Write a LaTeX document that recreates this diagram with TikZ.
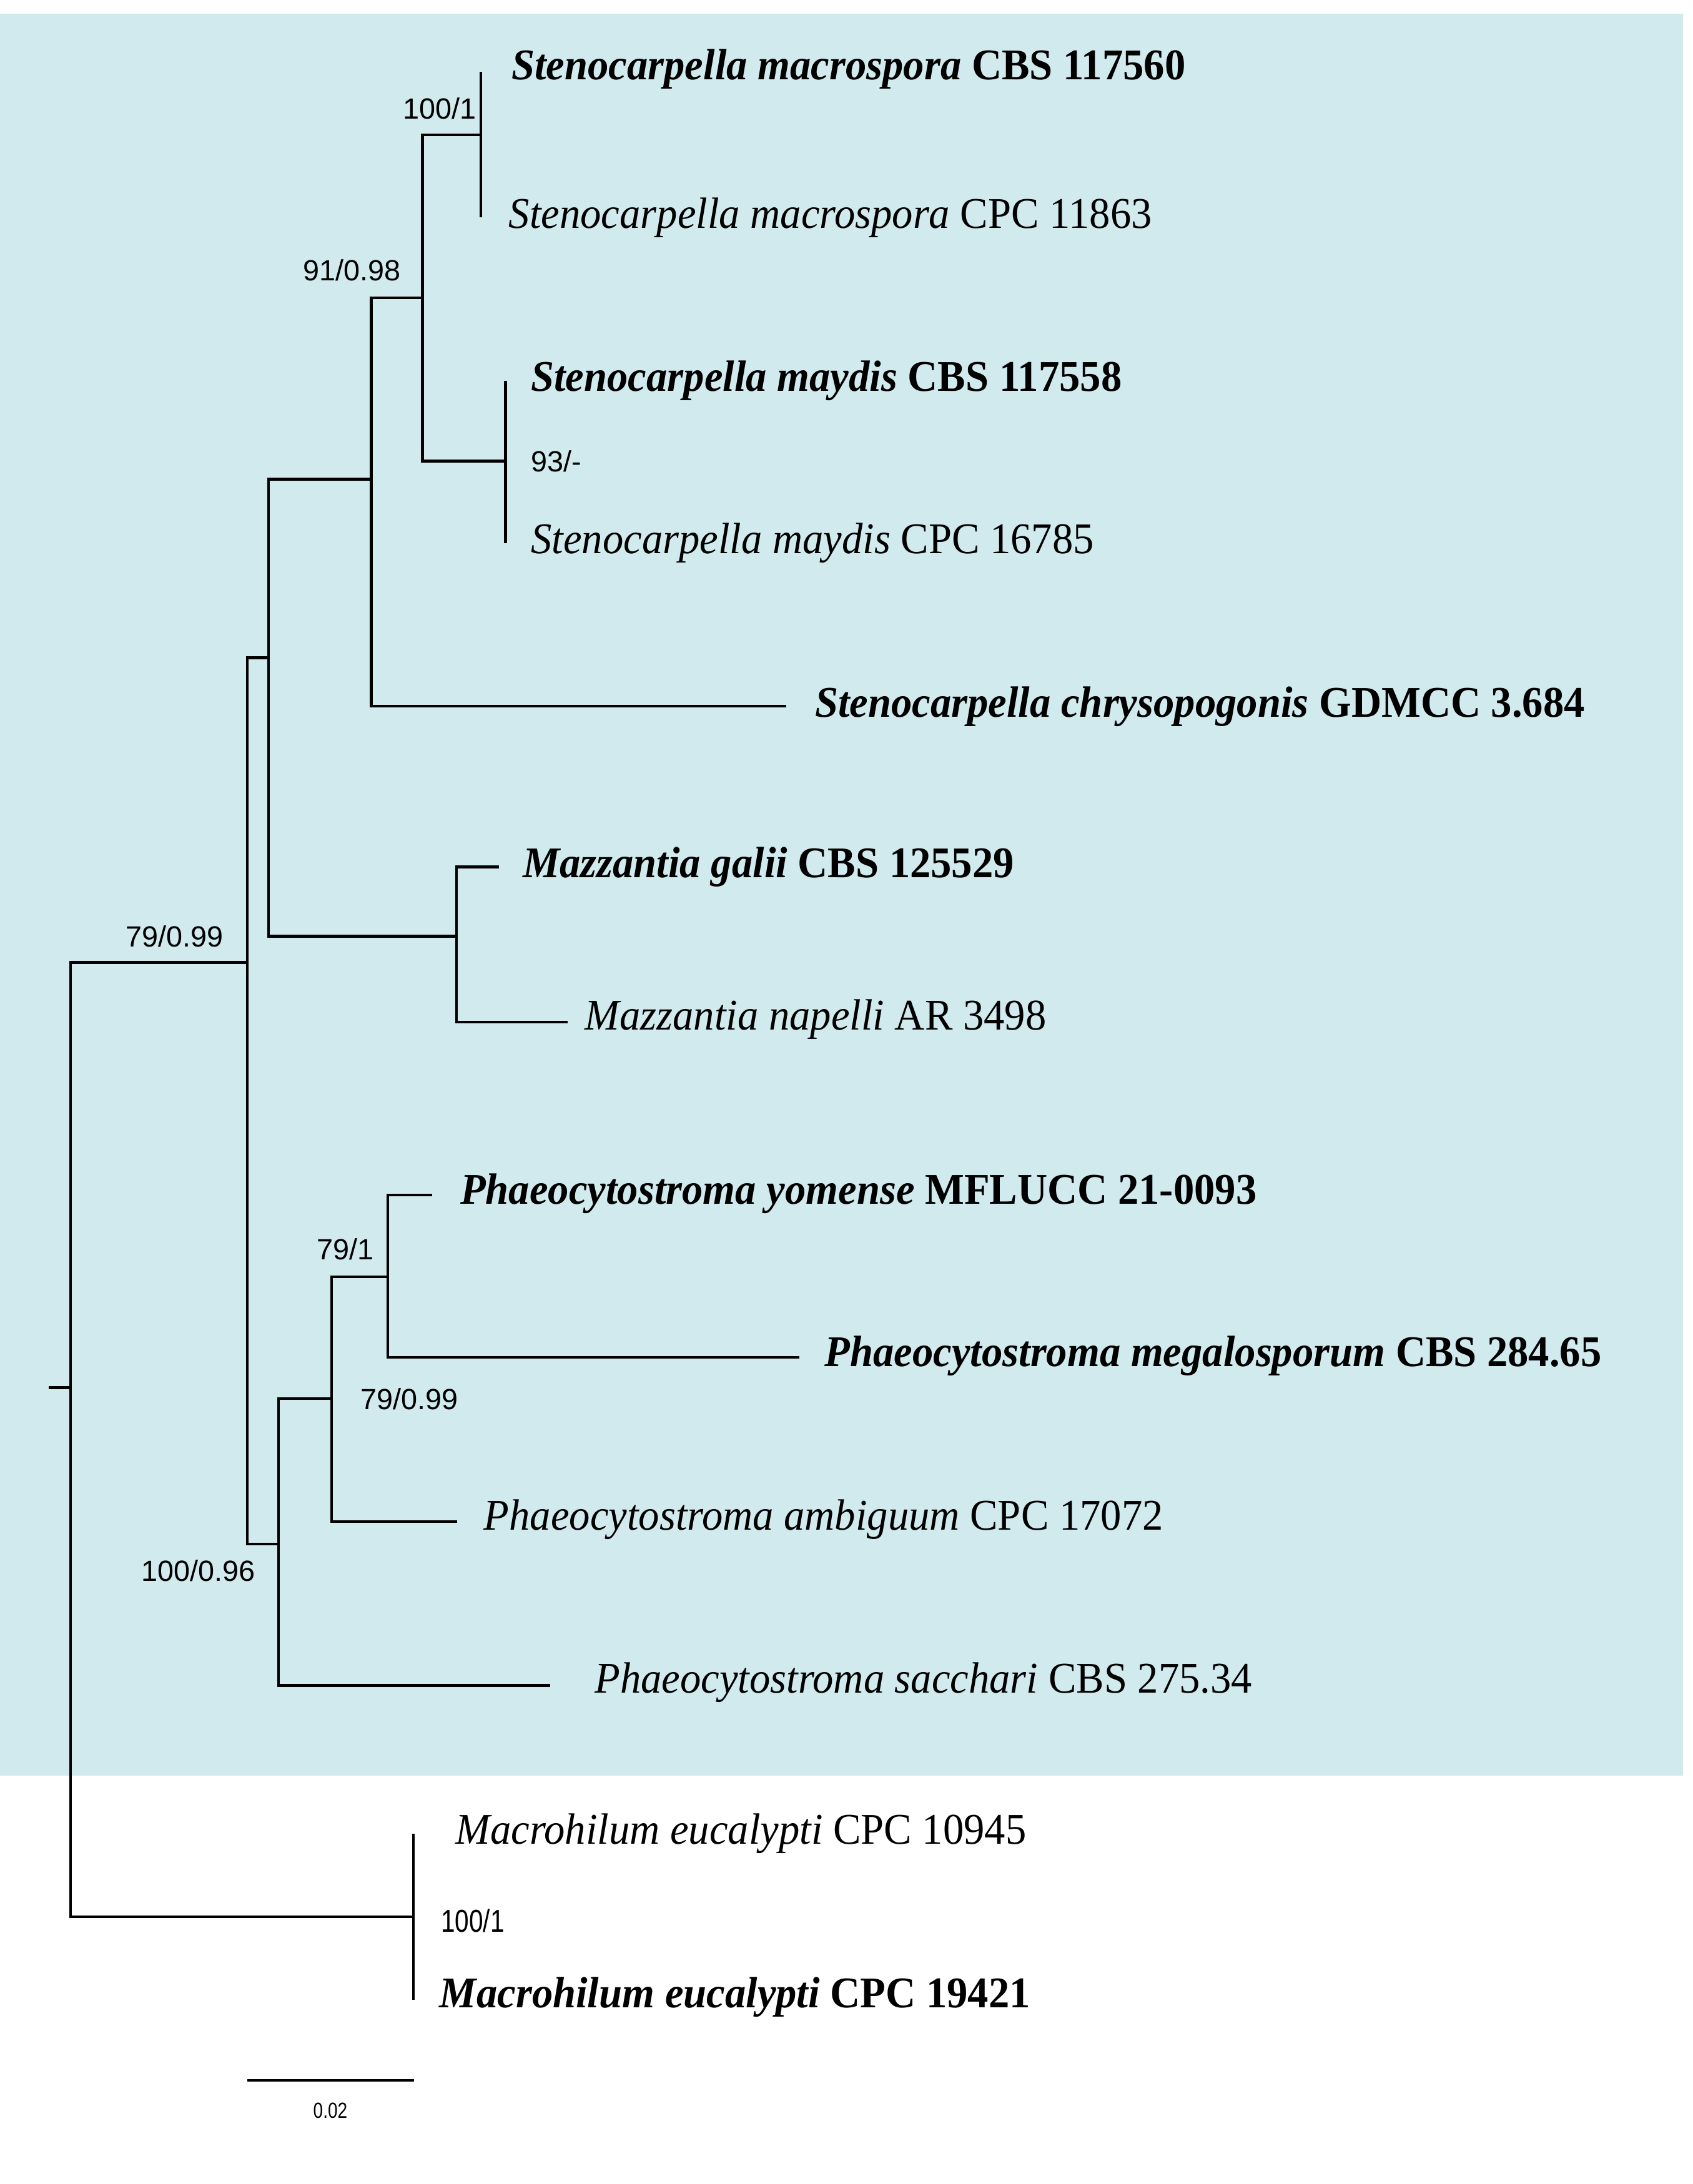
\documentclass[tikz,border=0pt]{standalone}
\usepackage{fontspec}
\setmainfont{Liberation Serif}[FakeStretch=0.95]
\newfontfamily\lab{Liberation Sans}
\newfontfamily\labn{Liberation Sans}[FakeStretch=0.8]
\definecolor{bgc}{HTML}{D1EAEE}
\begin{document}
\begin{tikzpicture}[x=0.02cm,y=-0.02cm,
 br/.style={line width=1.1pt},
 tx/.style={anchor=west,font=\fontsize{18}{20}\selectfont,inner sep=0pt},
 bl/.style={font=\lab\fontsize{12}{14}\selectfont,inner sep=0pt}]
\useasboundingbox (0,0) rectangle (1222,1577);
\fill[white] (0,0) rectangle (1222,1577);
\fill[bgc] (0,10) rectangle (1215,1282);
% internal nodes
\coordinate (r0) at (35,1002);
\coordinate (r) at (51,1002);
\coordinate (a) at (178.5,695);
\coordinate (b) at (194,475);
\coordinate (c) at (268,346);
\coordinate (d) at (305,215);
\coordinate (e) at (347,97.5);
\coordinate (f) at (365,333);
\coordinate (g) at (329.5,676);
\coordinate (h) at (201,1115);
\coordinate (i) at (239.5,1010);
\coordinate (j) at (280,922);
\coordinate (k) at (298.6,1384);
% tips
\coordinate (t1) at (347,52);
\coordinate (t2) at (347,157);
\coordinate (t3) at (365,275);
\coordinate (t4) at (365,392);
\coordinate (t5) at (567.5,510);
\coordinate (t6) at (360,626);
\coordinate (t7) at (410,738);
\coordinate (t8) at (312,863);
\coordinate (t9) at (577,980);
\coordinate (t10) at (330,1098.6);
\coordinate (t11) at (397,1217);
\coordinate (t12) at (298.6,1324);
\coordinate (t13) at (298.6,1444);
% labels
\node[tx] (n1) at (369,50) {\textbf{\textit{Stenocarpella macrospora} CBS 117560}};
\node[tx] (n2) at (367,157) {\textit{Stenocarpella macrospora} CPC 11863};
\node[tx] (n3) at (383,275) {\textbf{\textit{Stenocarpella maydis} CBS 117558}};
\node[tx] (n4) at (383,392) {\textit{Stenocarpella maydis} CPC 16785};
\node[tx] (n5) at (588,510) {\textbf{\textit{Stenocarpella chrysopogonis} GDMCC 3.684}};
\node[tx] (n6) at (377,626) {\textbf{\textit{Mazzantia galii} CBS 125529}};
\node[tx] (n7) at (422,736) {\textit{Mazzantia napelli} AR 3498};
\node[tx] (n8) at (332,862) {\textbf{\textit{Phaeocytostroma  yomense}  MFLUCC 21-0093}};
\node[tx] (n9) at (595,979) {\textbf{\textit{Phaeocytostroma  megalosporum} CBS 284.65}};
\node[tx] (n10) at (349,1097) {\textit{Phaeocytostroma  ambiguum} CPC 17072};
\node[tx] (n11) at (429,1215) {\textit{Phaeocytostroma  sacchari} CBS 275.34};
\node[tx] (n12) at (328.6,1324) {\textit{Macrohilum eucalypti} CPC 10945};
\node[tx] (n13) at (317,1442) {\textbf{\textit{Macrohilum eucalypti} CPC 19421}};
% branches
\draw[br] (r0) -- (r);
\draw[br] (r) |- (a); \draw[br] (r) |- (k);
\draw[br] (a) |- (b); \draw[br] (a) |- (h);
\draw[br] (b) |- (c); \draw[br] (b) |- (g);
\draw[br] (c) |- (d); \draw[br] (c) |- (t5);
\draw[br] (d) |- (e); \draw[br] (d) |- (f);
\draw[br] (e) -- (t1); \draw[br] (e) -- (t2);
\draw[br] (f) -- (t3); \draw[br] (f) -- (t4);
\draw[br] (g) |- (t6); \draw[br] (g) |- (t7);
\draw[br] (h) |- (i); \draw[br] (h) |- (t11);
\draw[br] (i) |- (j); \draw[br] (i) |- (t10);
\draw[br] (j) |- (t8); \draw[br] (j) |- (t9);
\draw[br] (k) -- (t12); \draw[br] (k) -- (t13);
% support values
\node[bl] (s1) at (126,676) {79/0.99};
\node[bl] (s2) at (254,195) {91/0.98};
\node[bl,anchor=east] (s3) at (344,78.5) {100/1};
\node[bl,anchor=west] (s4) at (383,333) {93/-};
\node[bl] (s5) at (143,1134) {100/0.96};
\node[bl] (s6) at (295.5,1010) {79/0.99};
\node[bl] (s7) at (249.5,902) {79/1};
\node[bl,font=\labn\fontsize{13}{14}\selectfont,anchor=west] (s8) at (318,1387) {100/1};
% scale bar
\coordinate (sb1) at (178.5,1502);
\coordinate (sb2) at (299,1502);
\draw[br] (sb1) -- (sb2);
\node[bl,font=\labn\fontsize{9}{10}\selectfont] (sc) at (238.5,1524) {0.02};
\end{tikzpicture}
\end{document}
